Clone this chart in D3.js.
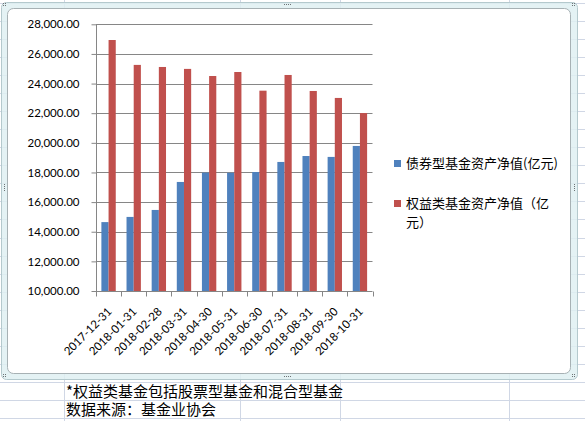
<!DOCTYPE html>
<html>
<head>
<meta charset="utf-8">
<script src="https://cdn.jsdelivr.net/npm/d3@7"></script>
<style>
body { margin: 0; background: #fff; }
#chart { position: relative; width: 585px; height: 421px; }
svg { display: block; }
.note { position: absolute; left: 66px; height: 18px; line-height: 18px; white-space: nowrap;
	font-family: 'Noto Sans CJK SC', sans-serif; font-size: 15px; color: #000; }
</style>
</head>
<body>
<div id="chart"></div>
<script>
// data
var categories = ["2017-12-31", "2018-01-31", "2018-02-28", "2018-03-31", "2018-04-30", "2018-05-31",
	"2018-06-30", "2018-07-31", "2018-08-31", "2018-09-30", "2018-10-31"];
var bondValues = [14650, 15000, 15470, 17360, 17990, 17980, 18030, 18710, 19110, 19050, 19790];
var equityValues = [26940, 25260, 25120, 24990, 24510, 24780, 23520, 24580, 23500, 23030, 22010];
var seriesNames = ["债券型基金资产净值(亿元)", "权益类基金资产净值（亿元）"];
var yTicks = [10000, 12000, 14000, 16000, 18000, 20000, 22000, 24000, 26000, 28000];
var notes = ["*权益类基金包括股票型基金和混合型基金", "数据来源：基金业协会"];

var W = 585, H = 421;
var svg = d3.select("#chart").append("svg").attr("width", W).attr("height", H);

// spreadsheet grid behind the chart
var grid = svg.append("g").attr("stroke", "#d0d7e5").attr("stroke-width", 1);
for (var r = 0; r < 24; r++) {
	var gy = Math.round(2.6 + 18.07 * r) + 0.5;
	grid.append("line").attr("x1", 0).attr("x2", W).attr("y1", gy).attr("y2", gy);
}
[64, 240, 340, 509].forEach(function (cx) {
	grid.append("line").attr("x1", cx + 0.5).attr("x2", cx + 0.5).attr("y1", 0).attr("y2", H);
});

// selected chart frame
svg.append("rect").attr("x", 1.5).attr("y", 2.5).attr("width", 576).attr("height", 377)
	.attr("rx", 5).attr("fill", "#dff0f2").attr("fill-opacity", 0.85)
	.attr("stroke", "#b4c9cd").attr("stroke-width", 1);
svg.append("rect").attr("x", 7.5).attr("y", 8.5).attr("width", 563).attr("height", 365)
	.attr("rx", 6).attr("fill", "#fff").attr("stroke", "#a7b1b4").attr("stroke-width", 1);

// handles
var handles = svg.append("g").attr("fill", "#6d7375");
function dots(x0, y0, n, horiz) {
	for (var i = 0; i < n; i++) {
		handles.append("rect").attr("x", horiz ? x0 + i * 2 : x0).attr("y", horiz ? y0 : y0 + i * 2)
			.attr("width", 1).attr("height", 1);
	}
}
[[3, 3], [572, 3], [3, 374], [572, 374]].forEach(function (c) {
	handles.append("rect").attr("x", c[0]).attr("y", c[1]).attr("width", 1).attr("height", 1);
	handles.append("rect").attr("x", c[0] + 2).attr("y", c[1]).attr("width", 1).attr("height", 1);
	handles.append("rect").attr("x", c[0]).attr("y", c[1] + 2).attr("width", 1).attr("height", 1);
	handles.append("rect").attr("x", c[0] + 2).attr("y", c[1] + 2).attr("width", 1).attr("height", 1);
});
dots(284, 4, 4, true);
dots(284, 376, 4, true);
dots(4, 184, 4, false);
dots(574, 184, 4, false);

// scales
var x = d3.scaleBand().domain(categories).range([96, 372.5]).paddingInner(0.4286).paddingOuter(0.2143);
var step = x.step();
var x1 = d3.scaleBand().domain([0, 1]).range([0, x.bandwidth()]);
var y = d3.scaleLinear().domain([10000, 28000]).range([291, 24.3]);
var colors = ["#4f81bd", "#c0504d"];
var axisFont = "Lato, 'Liberation Sans', sans-serif";

// gridlines
svg.append("g").selectAll("line").data(yTicks.slice(1)).join("line")
	.attr("x1", 96).attr("x2", 372.5)
	.attr("y1", function (d) { return Math.round(y(d)) + 0.5; })
	.attr("y2", function (d) { return Math.round(y(d)) + 0.5; })
	.attr("stroke", "#868686").attr("stroke-width", 1);

// bars
var series = [bondValues, equityValues];
series.forEach(function (vals, s) {
	svg.append("g").selectAll("rect").data(vals).join("rect")
		.attr("x", function (d, i) { return x(categories[i]) + x1(s); })
		.attr("width", x1.bandwidth())
		.attr("y", function (d) { return y(d); })
		.attr("height", function (d) { return y(10000) - y(d); })
		.attr("fill", colors[s]);
});

// y axis
var yAxis = d3.axisLeft(y).tickValues(yTicks).tickSize(5).tickPadding(12)
	.tickFormat(function (d) { return d3.format(",.2f")(d); });
var ya = svg.append("g").attr("transform", "translate(96.5,0)").call(yAxis);
ya.select(".domain").attr("stroke", "#868686").attr("d", "M0," + y(28000) + "V" + (Math.round(y(10000)) + 0.5));
ya.selectAll(".tick line").attr("stroke", "#868686");
ya.selectAll(".tick text").attr("fill", "#000").style("font-family", axisFont).style("font-size", "11.5px");

// x axis, ticks between categories
var xa = svg.append("g").attr("transform", "translate(0," + (Math.round(y(10000)) + 0.5) + ")");
xa.append("line").attr("x1", 96).attr("x2", 372.5).attr("stroke", "#868686");
xa.selectAll("line.tk").data(d3.range(categories.length + 1)).join("line").attr("class", "tk")
	.attr("x1", function (i) { return Math.round(96 + i * step) + 0.5; })
	.attr("x2", function (i) { return Math.round(96 + i * step) + 0.5; })
	.attr("y1", 0).attr("y2", 5).attr("stroke", "#868686");
xa.selectAll("text").data(categories).join("text")
	.attr("transform", function (d) {
		return "translate(" + (x(d) + x.bandwidth() / 2 + 1) + ",18) rotate(-45)";
	})
	.attr("text-anchor", "end")
	.attr("dy", "0.35em")
	.style("font-family", axisFont).style("font-size", "11.5px")
	.text(function (d) { return d; });

// legend
var lg = svg.append("g").style("font-family", "'Noto Sans CJK SC', sans-serif").style("font-size", "13px");
lg.append("rect").attr("x", 394).attr("y", 160).attr("width", 7).attr("height", 7).attr("fill", colors[0]);
lg.append("text").attr("x", 406).attr("y", 167.5).text(seriesNames[0]);
lg.append("rect").attr("x", 394).attr("y", 200).attr("width", 7).attr("height", 7).attr("fill", colors[1]);
var t2 = lg.append("text").attr("x", 406).attr("y", 207.5);
t2.append("tspan").attr("x", 406).text(seriesNames[1].slice(0, 11));
t2.append("tspan").attr("x", 406).attr("dy", 19).text(seriesNames[1].slice(11));

// notes in the cells below the chart
d3.select("#chart").selectAll("div.note").data(notes).join("div")
	.attr("class", "note")
	.style("top", function (d, i) { return (382 + i * 18.3) + "px"; })
	.text(function (d) { return d; });
</script>
</body>
</html>
